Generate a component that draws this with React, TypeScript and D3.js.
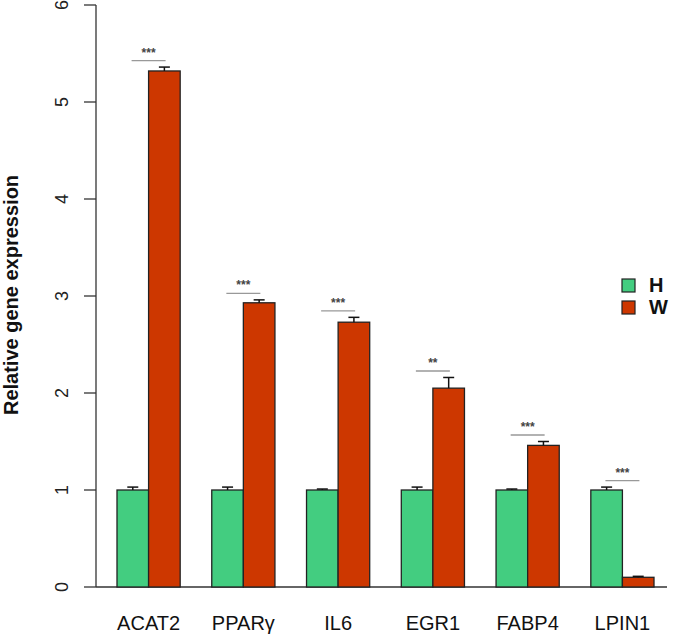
import React from "react";
import * as d3 from "d3";

const genes = ["ACAT2", "PPARγ", "IL6", "EGR1", "FABP4", "LPIN1"];
const groups = ["H", "W"];
const valuesH = [1.0, 1.0, 1.0, 1.0, 1.0, 1.0];
const errorsH = [0.03, 0.03, 0.01, 0.03, 0.01, 0.03];
const valuesW = [5.32, 2.93, 2.73, 2.05, 1.46, 0.1];
const errorsW = [0.04, 0.03, 0.05, 0.11, 0.04, 0.01];
const stars = ["***", "***", "***", "**", "***", "***"];
const yTicks = [0, 1, 2, 3, 4, 5, 6];
const colors = ["#43CD80", "#CD3700"];

export default function App() {
  const W = 675, H = 639;
  const y = d3.scaleLinear().domain([0, 6]).range([587, 5]);
  const x = d3.scaleBand<string>().domain(genes).range([117, 654]).paddingInner(1 / 3).paddingOuter(0);
  const xi = d3.scaleBand<string>().domain(groups).range([0, x.bandwidth()]).padding(0);
  const font = "Liberation Sans, Arial, sans-serif";
  const bw = xi.bandwidth();
  return (
    <svg width={W} height={H} style={{ position: "absolute", left: 0, top: 0, background: "#fff" }} fontFamily={font}>
      <rect width={W} height={H} fill="#fff" />
      {/* y axis */}
      <line x1={96} x2={96} y1={y(6)} y2={y(0)} stroke="#333" strokeWidth={1.3} />
      {yTicks.map((t) => (
        <g key={t}>
          <line x1={84} x2={96} y1={y(t)} y2={y(t)} stroke="#333" strokeWidth={1.3} />
          <text transform={`translate(68,${y(t)}) rotate(-90)`} textAnchor="middle" fontSize={18} fill="#222">{t}</text>
        </g>
      ))}
      <text transform={`translate(18,${y(3) - 1}) rotate(-90)`} textAnchor="middle" fontSize={20} fontWeight="bold" fill="#111">Relative gene expression</text>
      {/* baseline */}
      <line x1={96} x2={667} y1={y(0)} y2={y(0)} stroke="#333" strokeWidth={1.3} />
      {genes.map((g, i) => {
        const x0 = x(g)!;
        const vals = [valuesH[i], valuesW[i]];
        const errs = [errorsH[i], errorsW[i]];
        const topErr = Math.max(valuesH[i] + errorsH[i], valuesW[i] + errorsW[i]);
        const lineY = y(topErr) - 6.5;
        const cx = x0 + x.bandwidth() / 2;
        return (
          <g key={g}>
            {groups.map((s, j) => {
              const bx = x0 + xi(s)!;
              const v = vals[j];
              const e = errs[j];
              const mx = bx + bw / 2;
              return (
                <g key={s}>
                  <rect x={bx} y={y(v)} width={bw} height={y(0) - y(v)} fill={colors[j]} stroke="#222" strokeWidth={1.3} />
                  <line x1={mx} x2={mx} y1={y(v)} y2={y(v + e)} stroke="#111" strokeWidth={1.5} />
                  <line x1={mx - 5.5} x2={mx + 5.5} y1={y(v + e)} y2={y(v + e)} stroke="#111" strokeWidth={1.5} />
                </g>
              );
            })}
            <line x1={cx - 17} x2={cx + 17} y1={lineY} y2={lineY} stroke="#999" strokeWidth={1.3} />
            <text x={cx} y={lineY - 4} textAnchor="middle" fontSize={12} fontWeight="bold" fill="#444">{stars[i]}</text>
            <text x={cx} y={630} textAnchor="middle" fontSize={20} fill="#111">{g}</text>
          </g>
        );
      })}
      {/* legend */}
      {groups.map((s, j) => (
        <g key={s}>
          <rect x={622} y={279 + j * 22} width={13} height={13} fill={colors[j]} stroke="#222" strokeWidth={1.2} />
          <text x={649} y={292 + j * 22} fontSize={20} fontWeight="bold" fill="#111">{s}</text>
        </g>
      ))}
    </svg>
  );
}
